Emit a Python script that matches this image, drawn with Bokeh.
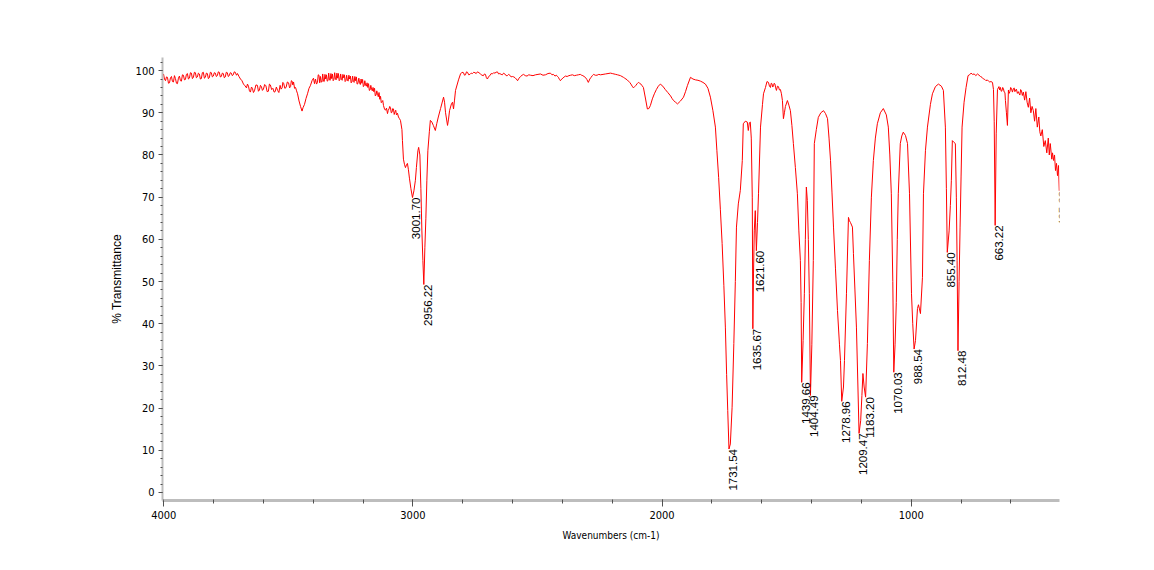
import math
from bokeh.plotting import figure
from bokeh.models import Range1d, FixedTicker, ColumnDataSource
from bokeh.core.properties import value
from bokeh.embed import file_html
from bokeh.resources import INLINE

# ---- spectrum (wavenumber cm-1, % transmittance) ----
wavenumber = [
    4001, 3997, 3993, 3989, 3985, 3981, 3977, 3973, 3969, 3965, 3961, 3957, 3953, 3949,
    3945, 3941, 3937, 3933, 3929, 3925, 3921, 3917, 3913, 3909, 3905, 3901, 3897, 3893,
    3889, 3885, 3881, 3877, 3873, 3869, 3865, 3861, 3857, 3853, 3849, 3845, 3841, 3837,
    3833, 3829, 3825, 3821, 3817, 3813, 3809, 3805, 3801, 3797, 3793, 3789, 3785, 3781,
    3777, 3773, 3769, 3765, 3761, 3757, 3753, 3749, 3745, 3741, 3737, 3733, 3729, 3725,
    3721, 3717, 3713, 3708, 3704, 3698, 3692, 3686, 3680, 3674, 3668, 3664, 3660, 3656,
    3652, 3648, 3644, 3640, 3636, 3630, 3624, 3620, 3616, 3612, 3608, 3604, 3600, 3595,
    3590, 3585, 3580, 3576, 3572, 3567, 3562, 3557, 3553, 3548, 3543, 3538, 3533, 3529,
    3525, 3522, 3519, 3514, 3509, 3504, 3499, 3495, 3491, 3488, 3485, 3482, 3479, 3475,
    3471, 3467, 3463, 3457, 3451, 3445, 3441, 3435, 3429, 3423, 3417, 3411, 3405, 3399,
    3395, 3391, 3387, 3383, 3380, 3377, 3374, 3371, 3368, 3365, 3362, 3359, 3356, 3353,
    3350, 3347, 3344, 3341, 3338, 3335, 3332, 3329, 3326, 3323, 3320, 3317, 3314, 3311,
    3308, 3305, 3302, 3299, 3296, 3293, 3290, 3287, 3284, 3281, 3278, 3275, 3272, 3269,
    3266, 3263, 3260, 3257, 3254, 3251, 3248, 3245, 3242, 3239, 3236, 3233, 3230, 3227,
    3224, 3221, 3217, 3214, 3211, 3208, 3205, 3202, 3199, 3196, 3193, 3190, 3187, 3184,
    3181, 3178, 3175, 3172, 3169, 3166, 3163, 3160, 3157, 3154, 3151, 3148, 3145, 3142,
    3139, 3136, 3133, 3130, 3127, 3124, 3121, 3118, 3114, 3110, 3106, 3102, 3099, 3096,
    3093, 3090, 3087, 3084, 3081, 3078, 3075, 3072, 3069, 3066, 3062, 3058, 3054, 3050,
    3044, 3042, 3038, 3034, 3030, 3026, 3022, 3018, 3014, 3008, 3001.7,
    2996, 2990, 2986, 2980, 2977, 2972, 2968, 2964, 2960, 2956.22, 2952, 2948, 2944, 2940,
    2934, 2930, 2924, 2918, 2910, 2904, 2898, 2889, 2877, 2873, 2869, 2861, 2857, 2853,
    2845, 2841, 2837, 2833, 2829, 2817, 2809, 2803, 2797, 2793, 2789, 2785, 2781, 2776,
    2771, 2766, 2761, 2756, 2751, 2746, 2741, 2735, 2729, 2723, 2717, 2713, 2709, 2705,
    2701, 2696, 2691, 2686, 2681, 2676, 2671, 2666, 2661, 2656, 2651, 2646, 2641, 2636,
    2631, 2626, 2621, 2616, 2611, 2606, 2601, 2595, 2590, 2585, 2580, 2574, 2568, 2562,
    2556, 2549, 2542, 2535, 2528, 2518, 2508, 2498, 2488, 2478, 2468, 2458, 2448, 2442,
    2436, 2430, 2424, 2420, 2416, 2412, 2408, 2403, 2398, 2393, 2388, 2381, 2374, 2367,
    2360, 2352, 2344, 2336, 2328, 2323, 2318, 2313, 2308, 2302, 2296, 2290, 2285, 2280,
    2275, 2268, 2261, 2254, 2247, 2237, 2227, 2217, 2207, 2200, 2193, 2186, 2179, 2173,
    2167, 2161, 2155, 2150, 2145, 2140, 2135, 2130, 2125, 2120, 2115, 2110, 2105, 2100,
    2095, 2090, 2085, 2080, 2075, 2067, 2059, 2053, 2047, 2039, 2031, 2023, 2015, 2007,
    1997, 1987, 1977, 1966, 1960, 1954, 1946, 1938, 1926, 1914, 1906, 1898, 1886, 1876,
    1866, 1856, 1846, 1836, 1826, 1816, 1806, 1796, 1786, 1780, 1773, 1766, 1759, 1752,
    1746, 1741, 1736.5, 1731.54, 1726, 1719, 1712, 1706, 1701.5, 1694, 1686, 1678, 1674, 1666,
    1658, 1654, 1650, 1646, 1642, 1638, 1635.67, 1633, 1630, 1626, 1621.6, 1617, 1613, 1605,
    1597, 1593, 1585, 1579, 1573, 1569, 1565, 1562, 1559, 1556, 1553, 1550, 1547, 1544,
    1541, 1537, 1533, 1529, 1525, 1521, 1517, 1513, 1509, 1505, 1497, 1491, 1485, 1479,
    1473, 1465, 1457, 1451, 1445, 1442, 1439.66, 1434, 1429, 1425, 1421, 1417, 1413, 1409,
    1404.49, 1399, 1393, 1389, 1381, 1373, 1363, 1352, 1344, 1336, 1330, 1324, 1318, 1312,
    1304, 1296, 1288, 1284, 1278.96, 1272, 1268, 1260, 1252, 1248, 1244, 1236, 1232, 1226,
    1220, 1214, 1209.47, 1203, 1198, 1194, 1189, 1183.2, 1176, 1168, 1160, 1152, 1144, 1136,
    1124, 1112, 1100, 1092, 1086, 1080, 1074, 1070.03, 1065, 1060, 1056, 1052, 1044, 1038,
    1032, 1023, 1015, 1007, 999, 994, 988.54, 983, 975, 971, 967, 963, 955, 951,
    943, 935, 923, 915, 903, 891, 879, 871, 863, 859, 855.4, 848, 843, 839,
    835, 829, 823, 819, 816, 812.48, 808, 804, 800, 796, 788, 780, 772, 766,
    760, 754, 747, 741, 734, 728, 722, 716, 710, 705, 700, 695, 690, 685,
    680, 674, 670, 667, 663.22, 659, 654, 648, 645, 642, 639, 636, 633, 630,
    627, 624, 622, 618, 614, 610, 607, 604, 601, 598, 594, 590, 587, 584,
    581, 578, 574, 570, 567, 564, 561, 558, 554, 550, 545, 540, 535, 530,
    525, 520, 515, 510, 505, 500, 494, 488, 484, 480, 474, 468, 462, 456,
    450, 446, 442, 436, 433, 429, 425, 421, 417, 413, 409, 405.93,
]
transmittance = [
    99.2, 98.0, 97.6, 98.5, 98.4, 97.0, 97.1, 98.3, 98.6, 97.4, 97.3, 98.8, 98.1, 97.0,
    96.9, 98.2, 98.7, 97.6, 97.5, 99.0, 98.9, 97.8, 97.9, 99.1, 99.3, 98.0, 98.2, 99.5,
    99.4, 98.1, 98.4, 99.6, 99.5, 98.3, 98.5, 99.4, 99.2, 98.0, 98.1, 99.5, 99.6, 98.2,
    98.4, 99.4, 99.3, 98.1, 98.3, 99.6, 99.5, 98.5, 98.7, 99.5, 99.4, 98.6, 98.8, 99.7,
    99.6, 98.5, 98.6, 99.4, 99.3, 98.3, 98.5, 99.6, 99.5, 98.6, 98.8, 99.5, 99.4, 98.8,
    99.0, 99.7, 99.6, 98.9, 99.3, 98.6, 98.0, 97.6, 96.8, 96.4, 95.9, 96.8, 96.3, 95.2,
    94.9, 96.1, 95.8, 94.8, 95.2, 96.6, 96.5, 95.1, 95.4, 96.5, 96.2, 95.3, 95.6, 96.7,
    96.4, 95.0, 95.1, 96.8, 96.6, 95.5, 95.8, 94.9, 95.0, 96.1, 95.3, 94.8, 96.5, 95.6,
    95.9, 97.2, 97.0, 95.8, 96.0, 97.3, 97.1, 95.9, 96.2, 97.6, 97.5, 96.6, 97.3, 95.8,
    96.0, 95.2, 94.5, 92.8, 91.5, 90.4, 91.2, 92.0, 93.4, 94.5, 95.8, 96.5, 97.6, 98.2,
    96.9, 98.0, 96.8, 97.2, 99.0, 98.9, 97.1, 98.6, 97.3, 97.3, 99.2, 97.5, 97.4, 99.1,
    98.0, 99.0, 97.5, 97.6, 99.4, 97.8, 97.7, 99.3, 98.1, 99.2, 97.6, 97.9, 99.5, 98.0,
    97.8, 99.4, 98.2, 99.3, 97.6, 97.8, 99.2, 97.9, 97.7, 99.1, 98.3, 99.0, 97.4, 97.6,
    98.9, 97.7, 97.5, 98.9, 98.0, 98.7, 97.1, 97.3, 98.7, 97.4, 97.2, 98.6, 97.6, 98.5,
    96.8, 96.9, 98.2, 97.1, 96.7, 98.0, 97.0, 97.9, 96.2, 96.4, 97.6, 96.6, 96.3, 97.1,
    96.0, 96.9, 95.3, 95.4, 96.5, 95.6, 95.2, 96.0, 95.0, 95.8, 94.0, 94.2, 95.2, 94.5,
    93.8, 94.8, 93.2, 93.9, 92.4, 92.6, 92.9, 91.7, 90.9, 90.6, 91.1, 89.8, 90.6, 90.9,
    91.5, 91.2, 90.0, 90.1, 91.0, 90.9, 89.6, 90.2, 90.6, 89.5, 89.9, 89.0, 88.6, 88.2,
    86.0, 83.4, 79.0, 77.8, 77.0, 77.6, 78.0, 76.5, 74.5, 72.0, 69.9,
    71.5, 74.0, 77.0, 81.0, 81.8, 80.0, 72.0, 62.0, 55.0, 49.3, 58.0, 65.0, 74.0, 81.0,
    85.5, 88.2, 87.8, 87.0, 85.8, 87.5, 89.0, 91.0, 93.7, 92.5, 90.0, 87.0, 88.5, 90.5,
    92.2, 92.5, 90.9, 93.0, 95.3, 97.8, 99.2, 99.6, 99.5, 98.9, 99.0, 99.7, 99.6, 99.0,
    99.1, 99.4, 99.3, 99.6, 99.5, 99.3, 99.7, 99.5, 99.2, 98.9, 98.8, 99.2, 99.1, 98.3,
    98.0, 98.6, 98.8, 99.3, 99.2, 99.5, 99.4, 99.6, 99.7, 99.2, 99.3, 99.1, 99.0, 99.4,
    99.2, 98.8, 98.8, 99.1, 98.9, 98.5, 98.6, 98.5, 98.3, 98.0, 97.6, 98.2, 98.6, 98.9,
    99.1, 98.8, 98.7, 99.0, 98.9, 98.8, 99.0, 99.1, 99.2, 98.9, 99.0, 99.3, 99.4, 99.0,
    99.1, 98.7, 98.9, 98.6, 98.4, 97.9, 97.6, 98.0, 98.2, 98.5, 98.7, 98.6, 98.8, 98.9,
    99.0, 98.8, 98.9, 99.0, 99.1, 98.9, 98.8, 98.6, 98.4, 97.9, 97.2, 98.0, 98.4, 98.8,
    99.1, 98.9, 98.9, 99.1, 99.0, 99.1, 99.2, 99.3, 99.4, 99.3, 99.2, 99.1, 99.0, 98.9,
    98.8, 98.6, 98.4, 98.2, 98.0, 97.8, 97.5, 97.2, 96.8, 96.3, 95.9, 96.2, 96.5, 96.9,
    97.2, 97.0, 96.8, 96.4, 96.0, 93.5, 90.9, 91.0, 91.7, 93.3, 94.5, 95.5, 96.3, 96.8,
    96.3, 95.5, 94.8, 94.0, 93.4, 92.9, 92.5, 92.1, 92.8, 93.7, 95.0, 96.5, 98.4, 98.0,
    97.8, 97.7, 97.5, 97.2, 96.8, 95.8, 93.7, 90.5, 86.6, 81.0, 74.7, 67.0, 59.0, 49.0,
    39.2, 28.0, 19.4, 10.3, 11.5, 20.2, 35.3, 50.0, 62.9, 68.4, 71.6, 78.7, 87.4, 88.0,
    87.8, 85.8, 87.6, 87.8, 84.0, 70.0, 38.8, 52.0, 62.0, 66.8, 57.3, 64.0, 70.8, 86.6,
    92.0, 94.5, 96.0, 97.4, 97.2, 96.3, 96.0, 97.0, 96.9, 96.1, 96.4, 97.0, 96.8, 95.9,
    95.3, 96.3, 96.2, 95.4, 95.5, 94.5, 92.9, 88.6, 90.0, 91.5, 92.9, 91.8, 90.5, 87.0,
    82.7, 77.0, 70.8, 62.0, 55.0, 45.0, 26.1, 36.0, 47.1, 60.0, 72.4, 69.2, 60.0, 47.1,
    23.0, 35.0, 55.0, 82.7, 86.0, 88.9, 90.0, 90.5, 89.8, 88.6, 84.0, 78.7, 71.0, 62.9,
    53.0, 43.1, 35.0, 31.3, 21.6, 25.0, 31.3, 47.1, 65.2, 64.4, 64.0, 62.9, 56.6, 48.0,
    39.2, 25.0, 14.0, 17.0, 23.0, 28.2, 25.0, 22.6, 35.3, 55.0, 70.0, 78.7, 84.0, 87.4,
    90.0, 91.0, 89.5, 86.6, 80.0, 70.8, 50.0, 28.5, 35.0, 45.0, 60.0, 70.8, 82.7, 84.5,
    85.4, 84.6, 82.7, 70.8, 47.1, 40.0, 34.0, 36.0, 43.6, 44.5, 43.5, 42.4, 51.0, 70.8,
    81.0, 86.6, 92.0, 94.5, 96.2, 96.8, 96.3, 95.3, 86.6, 72.0, 56.9, 62.0, 68.0, 74.0,
    83.4, 83.0, 82.7, 70.0, 55.0, 33.6, 50.0, 62.9, 75.0, 86.6, 92.5, 96.0, 98.8, 99.0,
    99.4, 99.1, 99.2, 98.8, 99.2, 98.9, 98.6, 98.4, 98.0, 97.9, 97.6, 97.8, 97.5, 97.3,
    97.4, 97.2, 95.5, 88.0, 63.3, 85.0, 95.5, 96.2, 95.4, 96.0, 95.1, 95.2, 96.0, 95.7,
    94.9, 94.8, 92.9, 90.0, 87.0, 95.4, 94.6, 95.0, 96.0, 95.8, 94.9, 95.7, 95.9, 95.0,
    95.4, 95.6, 94.6, 95.0, 94.5, 94.2, 95.5, 95.3, 94.1, 94.9, 93.0, 95.0, 92.5, 91.3,
    93.5, 90.0, 91.5, 90.5, 88.0, 91.0, 86.6, 89.0, 85.5, 84.5, 86.0, 82.0, 83.4, 80.5,
    84.0, 80.0, 82.7, 79.0, 80.5, 78.7, 80.0, 76.3, 78.0, 75.1, 77.5, 71.5,
]

# ---- peak annotations ----
peak_labels = ["3001.70", "2956.22", "1731.54", "1635.67", "1621.60", "1439.66",
               "1404.49", "1278.96", "1209.47", "1183.20", "1070.03", "988.54",
               "855.40", "812.48", "663.22", "405.93"]
peak_T = [69.9, 49.3, 10.3, 38.8, 57.3, 26.1, 23.0, 21.6, 14.0, 22.6, 28.5, 34.0,
          56.9, 33.6, 63.3, 71.5]

# ---- ticks ----
x_major = [4000, 3000, 2000, 1000]
x_minor = list(range(4000, 399, -200))
y_major = list(range(0, 101, 10))
y_minor = list(range(0, 103, 2))

p = figure(width=1154, height=570, output_backend="svg", toolbar_location=None,
           x_range=Range1d(4005, 405), y_range=Range1d(-1.9, 103.1),
           min_border_left=162, min_border_right=95, min_border_top=57,
           min_border_bottom=70, background_fill_color="white",
           border_fill_color="white")
p.outline_line_color = None
p.grid.visible = False

p.line(wavenumber, transmittance, line_color="#ff0000", line_width=1)

src = ColumnDataSource(dict(x=[float(s) for s in peak_labels], y=peak_T, t=peak_labels))
p.text(x="x", y="y", text="t", source=src, angle=math.pi / 2,
       text_align="right", text_baseline="top",
       text_font=value("Liberation Sans"), text_font_size="11.5px",
       text_color="#000000")

p.xaxis.ticker = FixedTicker(ticks=x_major, minor_ticks=x_minor)
p.yaxis.ticker = FixedTicker(ticks=y_major, minor_ticks=y_minor)
p.xaxis.axis_label = "Wavenumbers (cm-1)"
p.yaxis.axis_label = "% Transmittance"

for ax in (p.xaxis[0], p.yaxis[0]):
    ax.axis_line_color = "#bdbdbd"
    ax.major_tick_line_color = "#505050"
    ax.minor_tick_line_color = "#505050"
    ax.major_label_text_font = "DejaVu Sans Condensed"
    ax.major_label_text_font_size = "11px"
    ax.major_label_text_color = "#000000"
    ax.axis_label_text_color = "#000000"
    ax.axis_label_text_font_style = "normal"

p.xaxis.axis_line_width = 3
p.xaxis.major_tick_in = 1
p.xaxis.major_tick_out = 6
p.xaxis.minor_tick_in = 1
p.xaxis.minor_tick_out = 3
p.xaxis.major_label_standoff = 4
p.xaxis.axis_label_text_font = "DejaVu Sans Condensed"
p.xaxis.axis_label_text_font_size = "10px"
p.xaxis.axis_label_standoff = 8

p.yaxis.axis_line_width = 2
p.yaxis.major_tick_in = 0
p.yaxis.major_tick_out = 4
p.yaxis.minor_tick_in = 0
p.yaxis.minor_tick_out = 2
p.yaxis.major_label_standoff = 4
p.yaxis.axis_label_text_font = "Liberation Sans"
p.yaxis.axis_label_text_font_size = "12px"
p.yaxis.axis_label_standoff = 9

open("out.html", "w").write(file_html(p, INLINE))
